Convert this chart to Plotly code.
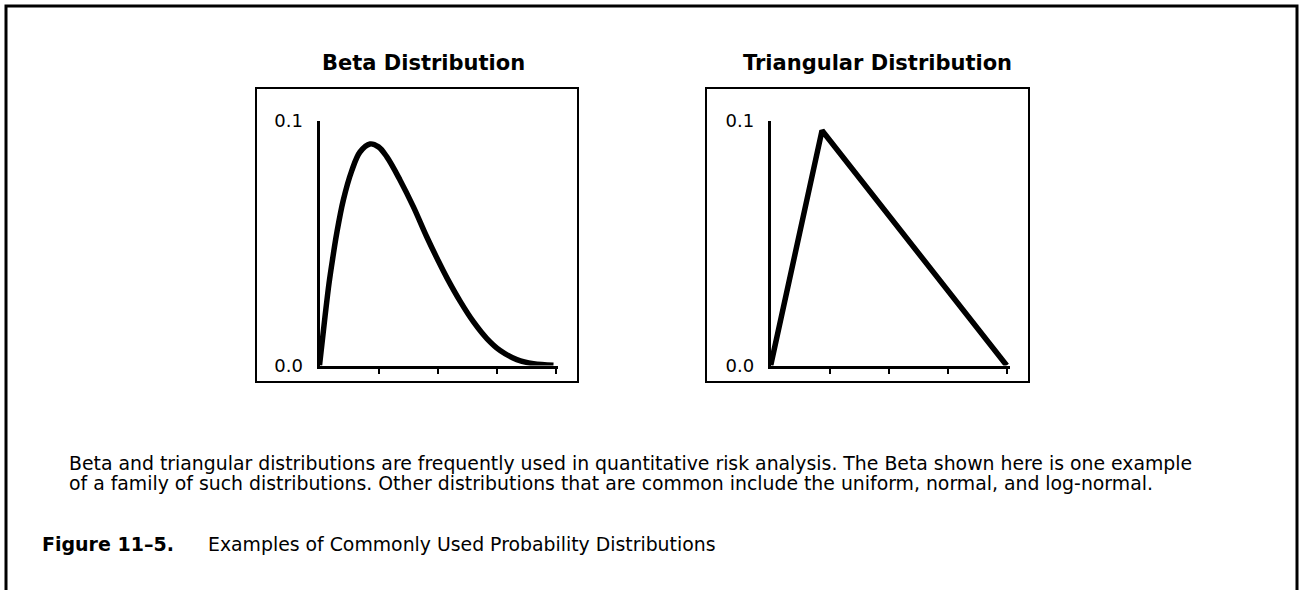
import plotly.graph_objects as go

W, H = 1299, 590

# Beta distribution curve (x in units 0-4, density scale 0-0.1)
beta_x = [0, 0.093, 0.161, 0.224, 0.292, 0.403, 0.546, 0.686, 0.856, 1.0, 1.139, 1.364,
          1.590, 1.817, 2.0, 2.160, 2.385, 2.611, 2.837, 3.062, 3.345, 3.627, 3.966]
beta_y = [0, 0.0199, 0.0335, 0.0438, 0.0540, 0.0675, 0.0795, 0.0872, 0.0905, 0.0893, 0.0853,
          0.0758, 0.0649, 0.0526, 0.0434, 0.0358, 0.0262, 0.0178, 0.0110, 0.0061, 0.0024,
          0.0007, 0.0001]

# Triangular distribution: min, mode, max
tri_x = [0, 0.87, 4.0]
tri_y = [0, 0.096, 0]

x_ticks = [1, 2, 3, 4]
y_tickvals = [0, 0.1]
y_ticktext = ["0.0", "0.1"]

titles = ["Beta Distribution", "Triangular Distribution"]
body_lines = [
    "Beta and triangular distributions are frequently used in quantitative risk analysis. The Beta shown here is one example",
    "of a family of such distributions. Other distributions that are common include the uniform, normal, and log-normal.",
]
fig_label = "Figure 11\u20135."
fig_caption = "Examples of Commonly Used Probability Distributions"

FONT = "DejaVu Sans"


def px(x):
    return x / W


def py(y):
    return 1 - y / H


fig = go.Figure()

# pixel geometry of the two small plots
panels = [
    dict(x0=319.5, y_top=120.7, y_bot=365.5, box=(256, 88, 578, 382), tcx=423),
    dict(x0=770.7, y_top=120.7, y_bot=365.5, box=(706, 88, 1029, 382), tcx=877),
]
unit = 59.0
xr = [0, 4.05]
yr = [0, 0.1]

layout = dict(
    width=W, height=H, margin=dict(l=0, r=0, t=0, b=0, autoexpand=False),
    template="none",
    paper_bgcolor="white", plot_bgcolor="rgba(0,0,0,0)",
    showlegend=False, font=dict(family=FONT, color="black"),
)

shapes = []
annotations = []

# outer frame
shapes.append(dict(type="rect", xref="paper", yref="paper",
                   x0=px(6), x1=px(1297), y0=py(640), y1=py(6),
                   line=dict(color="black", width=3)))

series = [(beta_x, beta_y), (tri_x, tri_y)]
for i, (p, (sx, sy)) in enumerate(zip(panels, series)):
    n = i * 3
    xa = "x" if i == 0 else f"x{n + 1}"
    ya = "y" if i == 0 else f"y{n + 1}"
    xk = "xaxis" if i == 0 else f"xaxis{n + 1}"
    yk = "yaxis" if i == 0 else f"yaxis{n + 1}"
    xdom = [px(p["x0"]), px(p["x0"] + unit * xr[1])]
    ydom = [py(p["y_bot"]), py(p["y_top"])]

    fig.add_trace(go.Scatter(x=sx, y=sy, mode="lines", xaxis=xa, yaxis=ya,
                             line=dict(color="black", width=5.5,
                                       shape="spline" if i == 0 else "linear",
                                       smoothing=1.0),
                             hoverinfo="skip"))

    # main axes: lines, outward ticks on x, labels on y
    layout[xk] = dict(domain=xdom, range=xr, anchor=ya, showline=True, linecolor="black",
                      linewidth=3, showgrid=False, zeroline=False, tickvals=x_ticks,
                      ticks="outside", ticklen=5, tickwidth=1.5, tickcolor="black",
                      showticklabels=False, fixedrange=True, automargin=False)
    layout[yk] = dict(domain=ydom, range=yr, anchor=xa, showline=True, linecolor="black",
                      linewidth=3, showgrid=False, zeroline=False, tickvals=y_tickvals,
                      ticktext=y_ticktext, ticks="", ticklabelstandoff=10,
                      tickfont=dict(family=FONT, size=18, color="black"), fixedrange=True,
                      automargin=False)

    # overlay axes supply the inward half of each tick mark
    xk2 = f"xaxis{n + 2}"
    yk2 = f"yaxis{n + 2}"
    yk3 = f"yaxis{n + 3}"
    layout[xk2] = dict(domain=xdom, range=xr, overlaying=xa, anchor=ya, side="bottom",
                       showline=False, showgrid=False, zeroline=False, tickvals=x_ticks,
                       ticks="inside", ticklen=5, tickwidth=1.5, tickcolor="black",
                       showticklabels=False, fixedrange=True, automargin=False)
    layout[yk2] = dict(domain=ydom, range=yr, overlaying=ya, anchor=xa, side="left",
                       showline=False, showgrid=False, zeroline=False, tickvals=[0.1],
                       ticks="inside", ticklen=4, tickwidth=1.5, tickcolor="black",
                       showticklabels=False, fixedrange=True, automargin=False)
    layout[yk3] = dict(domain=ydom, range=yr, overlaying=ya, anchor=xa, side="left",
                       showline=False, showgrid=False, zeroline=False, tickvals=[0.1],
                       ticks="outside", ticklen=4, tickwidth=1.5, tickcolor="black",
                       showticklabels=False, fixedrange=True, automargin=False)

    bx0, by0, bx1, by1 = p["box"]
    shapes.append(dict(type="rect", xref="paper", yref="paper",
                       x0=px(bx0), x1=px(bx1), y0=py(by1), y1=py(by0),
                       line=dict(color="black", width=2)))
    annotations.append(dict(text=f"<b>{titles[i]}</b>", xref="paper", yref="paper",
                            x=px(p["tcx"]), y=py(63), xanchor="center", yanchor="middle",
                            showarrow=False, font=dict(family=FONT, size=21, color="black")))

# explanatory text
for j, (line, cy) in enumerate(zip(body_lines, [463.5, 483])):
    annotations.append(dict(text=line, xref="paper", yref="paper", x=px(67), y=py(cy),
                            xanchor="left", yanchor="middle", showarrow=False,
                            font=dict(family=FONT, size=18.85, color="black")))

annotations.append(dict(text=f"<b>{fig_label}</b>", xref="paper", yref="paper", x=px(40),
                        y=py(544), xanchor="left", yanchor="middle", showarrow=False,
                        font=dict(family=FONT, size=19, color="black")))
annotations.append(dict(text=fig_caption, xref="paper", yref="paper", x=px(206),
                        y=py(544), xanchor="left", yanchor="middle", showarrow=False,
                        font=dict(family=FONT, size=18.85, color="black")))

layout["shapes"] = shapes
layout["annotations"] = annotations
fig.update_layout(**layout)

fig.write_html("out.html", config={"displayModeBar": False})
